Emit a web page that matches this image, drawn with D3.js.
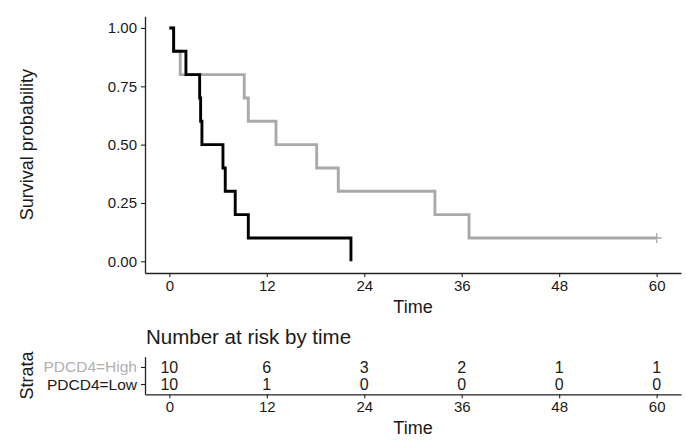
<!DOCTYPE html>
<html>
<head>
<meta charset="utf-8">
<script src="https://cdn.jsdelivr.net/npm/d3@7"></script>
<style>
  body { margin: 0; background: #fff; }
  text { font-family: "Liberation Sans", Arial, Helvetica, sans-serif; }
</style>
</head>
<body>
<script>
// survival curves (time in months, step after)
var timeHigh = [0, 0.5, 1.34, 9.22, 9.72, 13.13, 18.14, 20.8, 32.7, 36.9, 60];
var survHigh = [1, 0.9, 0.8, 0.7, 0.6, 0.5, 0.4, 0.3, 0.2, 0.1, 0.1];
var timeLow = [0, 0.53, 2.04, 3.73, 3.85, 4.01, 6.6, 6.88, 8.11, 9.72, 22.36];
var survLow = [1, 0.9, 0.8, 0.7, 0.6, 0.5, 0.4, 0.3, 0.2, 0.1, 0];
var censorHigh = [[60, 0.1]];

// risk table
var strata = ["PDCD4=High", "PDCD4=Low"];
var riskTimes = [0, 12, 24, 36, 48, 60];
var riskHigh = [10, 6, 3, 2, 1, 1];
var riskLow = [10, 1, 0, 0, 0, 0];

var xTicks = [0, 12, 24, 36, 48, 60];
var yTicks = [0, 0.25, 0.5, 0.75, 1];

var colHigh = "#a9a9a9", colLow = "#000000", ink = "#1a1a1a";

var width = 687, height = 442;

var svg = d3.select("body").append("svg")
    .attr("width", width)
    .attr("height", height);

var x = d3.scaleLinear().domain([-3, 63]).range([145, 681]);
var y = d3.scaleLinear().domain([-0.05, 1.05]).range([273, 16.3]);

//axes for the survival panel
var xAxis = svg.append("g")
    .attr("transform", "translate(0," + y(-0.05) + ")")
    .call(d3.axisBottom(x).tickValues(xTicks).tickSize(4).tickPadding(3).tickSizeOuter(0));
var yAxis = svg.append("g")
    .attr("transform", "translate(" + x(-3) + ",0)")
    .call(d3.axisLeft(y).tickValues(yTicks).tickSize(4).tickPadding(4).tickSizeOuter(0)
      .tickFormat(d3.format(".2f")));

[xAxis, yAxis].forEach(function(a) {
  a.select(".domain").attr("stroke", "#222").attr("stroke-width", 1.3);
  a.selectAll(".tick line").attr("stroke", "#222").attr("stroke-width", 1.1);
  a.selectAll(".tick text").style("font-size", "15px").style("fill", ink);
});

var line = d3.line()
    .x(function(d) { return x(d[0]); })
    .y(function(d) { return y(d[1]); })
    .curve(d3.curveStepAfter);

function pairs(t, s) { return t.map(function(v, i) { return [v, s[i]]; }); }

svg.append("path")
    .datum(pairs(timeHigh, survHigh))
    .attr("d", line)
    .attr("fill", "none")
    .attr("stroke", colHigh)
    .attr("stroke-width", 2.9);

svg.append("path")
    .datum(pairs(timeLow, survLow))
    .attr("d", line)
    .attr("fill", "none")
    .attr("stroke", colLow)
    .attr("stroke-width", 2.9);

// censor marks
svg.selectAll(".censor")
    .data(censorHigh)
  .enter().append("path")
    .attr("class", "censor")
    .attr("d", function(d) {
      var cx = x(d[0]), cy = y(d[1]);
      return "M" + (cx - 5) + "," + cy + "H" + (cx + 5) + "M" + cx + "," + (cy - 5) + "V" + (cy + 5);
    })
    .attr("stroke", colHigh)
    .attr("stroke-width", 1.3);

svg.append("text")
    .attr("transform", "translate(27," + ((y(1.05) + y(-0.05)) / 2) + ") rotate(-90)")
    .attr("text-anchor", "middle")
    .attr("dy", "0.35em")
    .style("font-size", "18px")
    .style("fill", ink)
    .text("Survival probability");

svg.append("text")
    .attr("x", (x(-3) + x(63)) / 2)
    .attr("y", 313)
    .attr("text-anchor", "middle")
    .style("font-size", "18px")
    .style("fill", ink)
    .text("Time");

// risk table
svg.append("text")
    .attr("x", 146)
    .attr("y", 343.5)
    .style("font-size", "20.5px")
    .style("fill", ink)
    .text("Number at risk by time");

var ry = d3.scalePoint().domain(strata).range([356.7, 394.3]).padding(0.6);

var rxAxis = svg.append("g")
    .attr("transform", "translate(0,394.3)")
    .call(d3.axisBottom(x).tickValues(xTicks).tickSize(4).tickPadding(3).tickSizeOuter(0));
var ryAxis = svg.append("g")
    .attr("transform", "translate(" + x(-3) + ",0)")
    .call(d3.axisLeft(ry).tickSize(4).tickPadding(4).tickSizeOuter(0));

[rxAxis, ryAxis].forEach(function(a) {
  a.select(".domain").attr("stroke", "#222").attr("stroke-width", 1.3);
  a.selectAll(".tick line").attr("stroke", "#222").attr("stroke-width", 1.1);
});
rxAxis.selectAll(".tick text").style("font-size", "15px").style("fill", ink);
ryAxis.selectAll(".tick text").style("font-size", "15.5px")
    .style("fill", function(d) { return d === "PDCD4=High" ? "#b0b0b0" : ink; });

var rows = [riskHigh, riskLow];
rows.forEach(function(vals, r) {
  svg.selectAll(".risk" + r)
      .data(vals)
    .enter().append("text")
      .attr("class", "risk" + r)
      .attr("x", function(d, i) { return x(riskTimes[i]); })
      .attr("y", ry(strata[r]))
      .attr("dy", "0.35em")
      .attr("text-anchor", "middle")
      .style("font-size", "16px")
      .style("fill", ink)
      .text(function(d) { return d; });
});

svg.append("text")
    .attr("transform", "translate(27," + ((356.7 + 394.3) / 2) + ") rotate(-90)")
    .attr("text-anchor", "middle")
    .attr("dy", "0.35em")
    .style("font-size", "18px")
    .style("fill", ink)
    .text("Strata");

svg.append("text")
    .attr("x", (x(-3) + x(63)) / 2)
    .attr("y", 434)
    .attr("text-anchor", "middle")
    .style("font-size", "18px")
    .style("fill", ink)
    .text("Time");
</script>
</body>
</html>
